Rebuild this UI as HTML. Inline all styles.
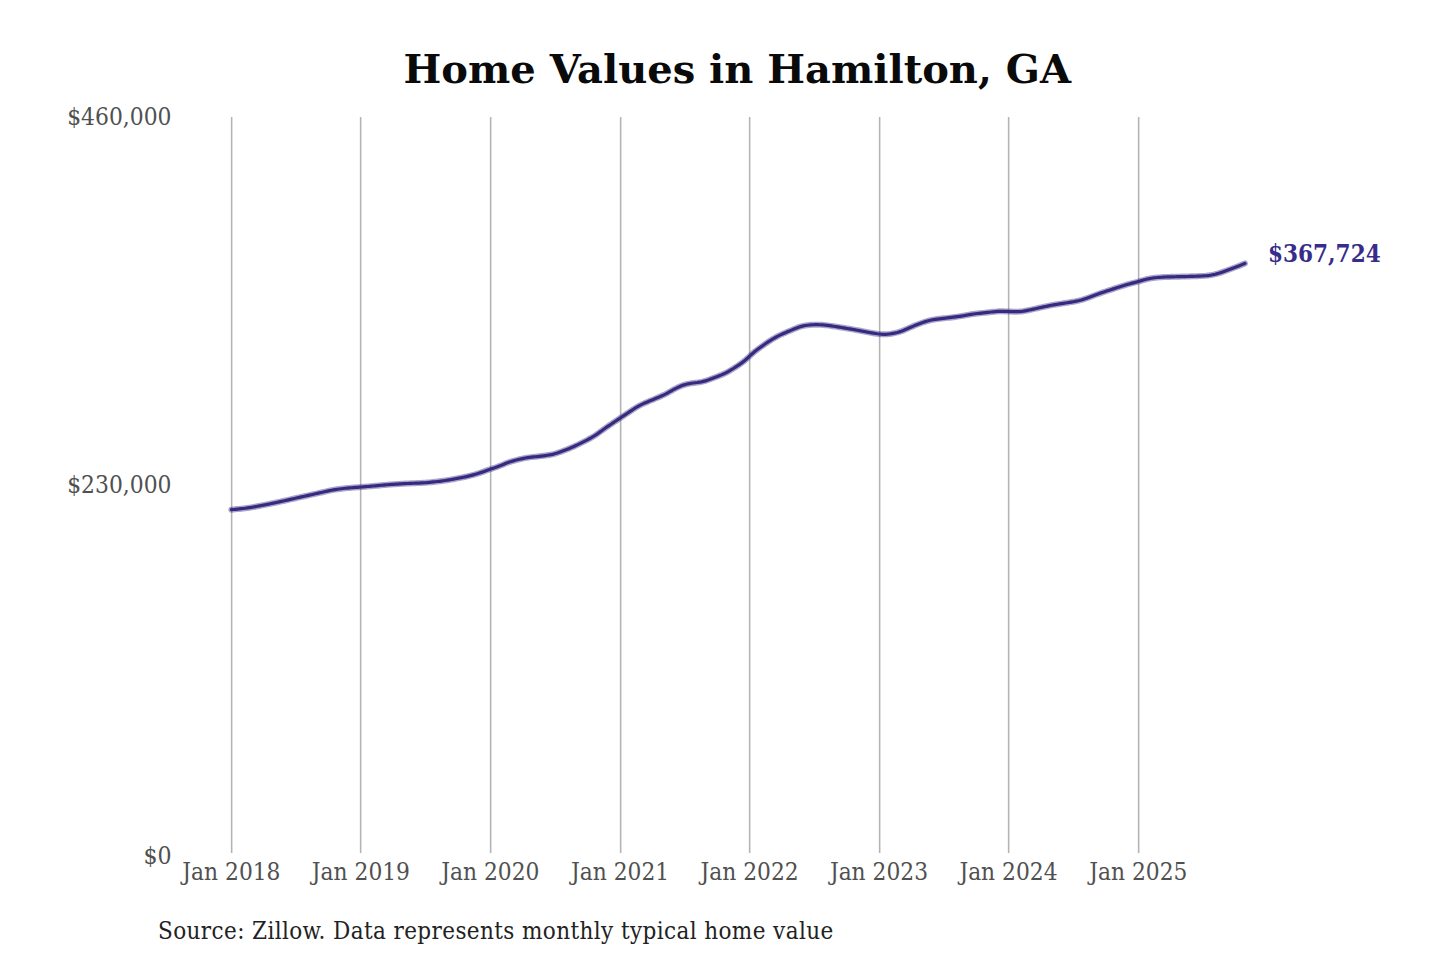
<!DOCTYPE html>
<html><head><meta charset="utf-8"><title>Home Values in Hamilton, GA</title>
<style>
html,body{margin:0;padding:0;background:#fff;width:1440px;height:960px;overflow:hidden}
svg{display:block}
#w{}
.t{font-family:"DejaVu Serif","Liberation Serif",serif}
.c{font-stretch:condensed}
</style></head><body>
<div id="w"><svg width="1440" height="960" viewBox="0 0 1440 960">
<rect width="1440" height="960" fill="#fff"/>
<g stroke="#aaaaaa" stroke-width="1" shape-rendering="auto"><line x1="230.50" y1="117" x2="230.50" y2="853" stroke="#f4f4f4"/><line x1="232.50" y1="117" x2="232.50" y2="853" stroke="#dedede"/><line x1="231.50" y1="117" x2="231.50" y2="853" stroke="#b4b4b4"/><line x1="359.50" y1="117" x2="359.50" y2="853" stroke="#f4f4f4"/><line x1="361.50" y1="117" x2="361.50" y2="853" stroke="#dedede"/><line x1="360.50" y1="117" x2="360.50" y2="853" stroke="#b4b4b4"/><line x1="489.50" y1="117" x2="489.50" y2="853" stroke="#f4f4f4"/><line x1="491.50" y1="117" x2="491.50" y2="853" stroke="#dedede"/><line x1="490.50" y1="117" x2="490.50" y2="853" stroke="#b4b4b4"/><line x1="619.50" y1="117" x2="619.50" y2="853" stroke="#f4f4f4"/><line x1="621.50" y1="117" x2="621.50" y2="853" stroke="#dedede"/><line x1="620.50" y1="117" x2="620.50" y2="853" stroke="#b4b4b4"/><line x1="748.50" y1="117" x2="748.50" y2="853" stroke="#f4f4f4"/><line x1="750.50" y1="117" x2="750.50" y2="853" stroke="#dedede"/><line x1="749.50" y1="117" x2="749.50" y2="853" stroke="#b4b4b4"/><line x1="878.50" y1="117" x2="878.50" y2="853" stroke="#f4f4f4"/><line x1="880.50" y1="117" x2="880.50" y2="853" stroke="#dedede"/><line x1="879.50" y1="117" x2="879.50" y2="853" stroke="#b4b4b4"/><line x1="1007.50" y1="117" x2="1007.50" y2="853" stroke="#f4f4f4"/><line x1="1009.50" y1="117" x2="1009.50" y2="853" stroke="#dedede"/><line x1="1008.50" y1="117" x2="1008.50" y2="853" stroke="#b4b4b4"/><line x1="1137.50" y1="117" x2="1137.50" y2="853" stroke="#f4f4f4"/><line x1="1139.50" y1="117" x2="1139.50" y2="853" stroke="#dedede"/><line x1="1138.50" y1="117" x2="1138.50" y2="853" stroke="#b4b4b4"/></g>
<g fill="none" stroke="#352a80" stroke-linecap="round" stroke-linejoin="round"><path d="M231.4 509.70 L233.4 509.50 L235.4 509.31 L237.4 509.11 L239.4 508.91 L241.4 508.70 L243.4 508.47 L245.4 508.22 L247.4 507.96 L249.4 507.66 L251.4 507.35 L253.4 507.02 L255.4 506.67 L257.4 506.30 L259.4 505.93 L261.4 505.55 L263.4 505.16 L265.4 504.76 L267.4 504.36 L269.4 503.95 L271.4 503.54 L273.4 503.13 L275.4 502.71 L277.4 502.28 L279.4 501.85 L281.4 501.41 L283.4 500.97 L285.4 500.52 L287.4 500.07 L289.4 499.61 L291.4 499.15 L293.4 498.70 L295.4 498.24 L297.4 497.79 L299.4 497.34 L301.4 496.89 L303.4 496.45 L305.4 496.01 L307.4 495.57 L309.4 495.13 L311.4 494.69 L313.4 494.25 L315.4 493.81 L317.4 493.37 L319.4 492.92 L321.4 492.47 L323.4 492.01 L325.4 491.55 L327.4 491.09 L329.4 490.66 L331.4 490.25 L333.4 489.88 L335.4 489.55 L337.4 489.24 L339.4 488.97 L341.4 488.72 L343.4 488.49 L345.4 488.28 L347.4 488.09 L349.4 487.92 L351.4 487.76 L353.4 487.61 L355.4 487.46 L357.4 487.31 L359.4 487.16 L361.4 487.01 L363.4 486.85 L365.4 486.69 L367.4 486.53 L369.4 486.37 L371.4 486.20 L373.4 486.03 L375.4 485.85 L377.4 485.66 L379.4 485.46 L381.4 485.26 L383.4 485.07 L385.4 484.89 L387.4 484.74 L389.4 484.60 L391.4 484.47 L393.4 484.35 L395.4 484.22 L397.4 484.09 L399.4 483.95 L401.4 483.83 L403.4 483.71 L405.4 483.60 L407.4 483.50 L409.4 483.41 L411.4 483.34 L413.4 483.26 L415.4 483.19 L417.4 483.11 L419.4 483.04 L421.4 482.96 L423.4 482.86 L425.4 482.73 L427.4 482.56 L429.4 482.38 L431.4 482.17 L433.4 481.96 L435.4 481.75 L437.4 481.53 L439.4 481.30 L441.4 481.05 L443.4 480.78 L445.4 480.50 L447.4 480.20 L449.4 479.88 L451.4 479.53 L453.4 479.18 L455.4 478.80 L457.4 478.41 L459.4 478.02 L461.4 477.62 L463.4 477.22 L465.4 476.81 L467.4 476.37 L469.4 475.90 L471.4 475.40 L473.4 474.87 L475.4 474.30 L477.4 473.69 L479.4 473.05 L481.4 472.37 L483.4 471.65 L485.4 470.92 L487.4 470.18 L489.4 469.47 L491.4 468.80 L493.4 468.16 L495.4 467.51 L497.4 466.82 L499.4 466.06 L501.4 465.25 L503.4 464.41 L505.4 463.59 L507.4 462.81 L509.4 462.10 L511.4 461.45 L513.4 460.85 L515.4 460.30 L517.4 459.78 L519.4 459.28 L521.4 458.82 L523.4 458.39 L525.4 458.00 L527.4 457.66 L529.4 457.37 L531.4 457.13 L533.4 456.93 L535.4 456.74 L537.4 456.54 L539.4 456.32 L541.4 456.08 L543.4 455.83 L545.4 455.56 L547.4 455.27 L549.4 454.94 L551.4 454.57 L553.4 454.12 L555.4 453.58 L557.4 452.96 L559.4 452.28 L561.4 451.56 L563.4 450.80 L565.4 450.02 L567.4 449.22 L569.4 448.40 L571.4 447.56 L573.4 446.68 L575.4 445.78 L577.4 444.85 L579.4 443.90 L581.4 442.91 L583.4 441.91 L585.4 440.88 L587.4 439.84 L589.4 438.77 L591.4 437.66 L593.4 436.48 L595.4 435.21 L597.4 433.85 L599.4 432.42 L601.4 430.95 L603.4 429.50 L605.4 428.07 L607.4 426.68 L609.4 425.31 L611.4 423.96 L613.4 422.61 L615.4 421.28 L617.4 419.94 L619.4 418.60 L621.4 417.25 L623.4 415.91 L625.4 414.56 L627.4 413.22 L629.4 411.89 L631.4 410.56 L633.4 409.24 L635.4 407.96 L637.4 406.75 L639.4 405.63 L641.4 404.61 L643.4 403.66 L645.4 402.77 L647.4 401.91 L649.4 401.08 L651.4 400.25 L653.4 399.41 L655.4 398.58 L657.4 397.74 L659.4 396.88 L661.4 396.01 L663.4 395.09 L665.4 394.10 L667.4 393.04 L669.4 391.94 L671.4 390.80 L673.4 389.69 L675.4 388.61 L677.4 387.60 L679.4 386.68 L681.4 385.85 L683.4 385.12 L685.4 384.51 L687.4 384.01 L689.4 383.60 L691.4 383.27 L693.4 383.00 L695.4 382.75 L697.4 382.50 L699.4 382.20 L701.4 381.84 L703.4 381.39 L705.4 380.85 L707.4 380.23 L709.4 379.53 L711.4 378.77 L713.4 377.98 L715.4 377.19 L717.4 376.43 L719.4 375.66 L721.4 374.87 L723.4 374.02 L725.4 373.08 L727.4 372.04 L729.4 370.92 L731.4 369.73 L733.4 368.49 L735.4 367.21 L737.4 365.91 L739.4 364.56 L741.4 363.15 L743.4 361.65 L745.4 360.00 L747.4 358.20 L749.4 356.32 L751.4 354.45 L753.4 352.70 L755.4 351.07 L757.4 349.54 L759.4 348.07 L761.4 346.64 L763.4 345.22 L765.4 343.81 L767.4 342.42 L769.4 341.09 L771.4 339.83 L773.4 338.63 L775.4 337.49 L777.4 336.41 L779.4 335.38 L781.4 334.42 L783.4 333.53 L785.4 332.68 L787.4 331.84 L789.4 331.01 L791.4 330.15 L793.4 329.28 L795.4 328.43 L797.4 327.64 L799.4 326.94 L801.4 326.36 L803.4 325.89 L805.4 325.52 L807.4 325.24 L809.4 325.01 L811.4 324.85 L813.4 324.74 L815.4 324.68 L817.4 324.68 L819.4 324.73 L821.4 324.83 L823.4 324.97 L825.4 325.16 L827.4 325.38 L829.4 325.64 L831.4 325.92 L833.4 326.22 L835.4 326.53 L837.4 326.85 L839.4 327.17 L841.4 327.50 L843.4 327.83 L845.4 328.16 L847.4 328.49 L849.4 328.82 L851.4 329.16 L853.4 329.49 L855.4 329.84 L857.4 330.20 L859.4 330.57 L861.4 330.95 L863.4 331.33 L865.4 331.72 L867.4 332.10 L869.4 332.47 L871.4 332.83 L873.4 333.17 L875.4 333.48 L877.4 333.76 L879.4 333.99 L881.4 334.17 L883.4 334.28 L885.4 334.29 L887.4 334.19 L889.4 333.98 L891.4 333.68 L893.4 333.31 L895.4 332.91 L897.4 332.44 L899.4 331.87 L901.4 331.19 L903.4 330.42 L905.4 329.57 L907.4 328.70 L909.4 327.83 L911.4 326.97 L913.4 326.12 L915.4 325.29 L917.4 324.49 L919.4 323.72 L921.4 322.99 L923.4 322.29 L925.4 321.64 L927.4 321.04 L929.4 320.51 L931.4 320.05 L933.4 319.67 L935.4 319.34 L937.4 319.07 L939.4 318.82 L941.4 318.58 L943.4 318.35 L945.4 318.12 L947.4 317.88 L949.4 317.65 L951.4 317.41 L953.4 317.17 L955.4 316.92 L957.4 316.65 L959.4 316.36 L961.4 316.05 L963.4 315.71 L965.4 315.35 L967.4 314.99 L969.4 314.64 L971.4 314.32 L973.4 314.02 L975.4 313.76 L977.4 313.51 L979.4 313.29 L981.4 313.07 L983.4 312.87 L985.4 312.66 L987.4 312.46 L989.4 312.25 L991.4 312.03 L993.4 311.82 L995.4 311.62 L997.4 311.46 L999.4 311.37 L1001.4 311.34 L1003.4 311.36 L1005.4 311.40 L1007.4 311.47 L1009.4 311.54 L1011.4 311.61 L1013.4 311.67 L1015.4 311.71 L1017.4 311.69 L1019.4 311.60 L1021.4 311.42 L1023.4 311.16 L1025.4 310.82 L1027.4 310.44 L1029.4 310.03 L1031.4 309.60 L1033.4 309.16 L1035.4 308.70 L1037.4 308.24 L1039.4 307.78 L1041.4 307.34 L1043.4 306.91 L1045.4 306.48 L1047.4 306.07 L1049.4 305.67 L1051.4 305.28 L1053.4 304.91 L1055.4 304.56 L1057.4 304.23 L1059.4 303.92 L1061.4 303.63 L1063.4 303.33 L1065.4 303.04 L1067.4 302.73 L1069.4 302.41 L1071.4 302.07 L1073.4 301.72 L1075.4 301.35 L1077.4 300.94 L1079.4 300.47 L1081.4 299.94 L1083.4 299.35 L1085.4 298.70 L1087.4 298.01 L1089.4 297.30 L1091.4 296.56 L1093.4 295.81 L1095.4 295.05 L1097.4 294.29 L1099.4 293.56 L1101.4 292.85 L1103.4 292.16 L1105.4 291.50 L1107.4 290.84 L1109.4 290.19 L1111.4 289.53 L1113.4 288.87 L1115.4 288.21 L1117.4 287.55 L1119.4 286.91 L1121.4 286.28 L1123.4 285.66 L1125.4 285.06 L1127.4 284.48 L1129.4 283.92 L1131.4 283.38 L1133.4 282.86 L1135.4 282.34 L1137.4 281.80 L1139.4 281.24 L1141.4 280.66 L1143.4 280.07 L1145.4 279.52 L1147.4 279.02 L1149.4 278.59 L1151.4 278.24 L1153.4 277.96 L1155.4 277.73 L1157.4 277.53 L1159.4 277.37 L1161.4 277.23 L1163.4 277.12 L1165.4 277.02 L1167.4 276.94 L1169.4 276.88 L1171.4 276.83 L1173.4 276.78 L1175.4 276.74 L1177.4 276.70 L1179.4 276.66 L1181.4 276.62 L1183.4 276.57 L1185.4 276.53 L1187.4 276.48 L1189.4 276.42 L1191.4 276.37 L1193.4 276.30 L1195.4 276.23 L1197.4 276.16 L1199.4 276.08 L1201.4 276.00 L1203.4 275.88 L1205.4 275.74 L1207.4 275.55 L1209.4 275.30 L1211.4 275.00 L1213.4 274.63 L1215.4 274.19 L1217.4 273.67 L1219.4 273.08 L1221.4 272.40 L1223.4 271.68 L1225.4 270.94 L1227.4 270.20 L1229.4 269.47 L1231.4 268.74 L1233.4 268.00 L1235.4 267.25 L1237.4 266.47 L1239.4 265.68 L1241.4 264.87 L1243.4 264.05 L1244.9 263.44" stroke-width="6.0" stroke-opacity="0.42"/><path d="M231.4 509.70 L233.4 509.50 L235.4 509.31 L237.4 509.11 L239.4 508.91 L241.4 508.70 L243.4 508.47 L245.4 508.22 L247.4 507.96 L249.4 507.66 L251.4 507.35 L253.4 507.02 L255.4 506.67 L257.4 506.30 L259.4 505.93 L261.4 505.55 L263.4 505.16 L265.4 504.76 L267.4 504.36 L269.4 503.95 L271.4 503.54 L273.4 503.13 L275.4 502.71 L277.4 502.28 L279.4 501.85 L281.4 501.41 L283.4 500.97 L285.4 500.52 L287.4 500.07 L289.4 499.61 L291.4 499.15 L293.4 498.70 L295.4 498.24 L297.4 497.79 L299.4 497.34 L301.4 496.89 L303.4 496.45 L305.4 496.01 L307.4 495.57 L309.4 495.13 L311.4 494.69 L313.4 494.25 L315.4 493.81 L317.4 493.37 L319.4 492.92 L321.4 492.47 L323.4 492.01 L325.4 491.55 L327.4 491.09 L329.4 490.66 L331.4 490.25 L333.4 489.88 L335.4 489.55 L337.4 489.24 L339.4 488.97 L341.4 488.72 L343.4 488.49 L345.4 488.28 L347.4 488.09 L349.4 487.92 L351.4 487.76 L353.4 487.61 L355.4 487.46 L357.4 487.31 L359.4 487.16 L361.4 487.01 L363.4 486.85 L365.4 486.69 L367.4 486.53 L369.4 486.37 L371.4 486.20 L373.4 486.03 L375.4 485.85 L377.4 485.66 L379.4 485.46 L381.4 485.26 L383.4 485.07 L385.4 484.89 L387.4 484.74 L389.4 484.60 L391.4 484.47 L393.4 484.35 L395.4 484.22 L397.4 484.09 L399.4 483.95 L401.4 483.83 L403.4 483.71 L405.4 483.60 L407.4 483.50 L409.4 483.41 L411.4 483.34 L413.4 483.26 L415.4 483.19 L417.4 483.11 L419.4 483.04 L421.4 482.96 L423.4 482.86 L425.4 482.73 L427.4 482.56 L429.4 482.38 L431.4 482.17 L433.4 481.96 L435.4 481.75 L437.4 481.53 L439.4 481.30 L441.4 481.05 L443.4 480.78 L445.4 480.50 L447.4 480.20 L449.4 479.88 L451.4 479.53 L453.4 479.18 L455.4 478.80 L457.4 478.41 L459.4 478.02 L461.4 477.62 L463.4 477.22 L465.4 476.81 L467.4 476.37 L469.4 475.90 L471.4 475.40 L473.4 474.87 L475.4 474.30 L477.4 473.69 L479.4 473.05 L481.4 472.37 L483.4 471.65 L485.4 470.92 L487.4 470.18 L489.4 469.47 L491.4 468.80 L493.4 468.16 L495.4 467.51 L497.4 466.82 L499.4 466.06 L501.4 465.25 L503.4 464.41 L505.4 463.59 L507.4 462.81 L509.4 462.10 L511.4 461.45 L513.4 460.85 L515.4 460.30 L517.4 459.78 L519.4 459.28 L521.4 458.82 L523.4 458.39 L525.4 458.00 L527.4 457.66 L529.4 457.37 L531.4 457.13 L533.4 456.93 L535.4 456.74 L537.4 456.54 L539.4 456.32 L541.4 456.08 L543.4 455.83 L545.4 455.56 L547.4 455.27 L549.4 454.94 L551.4 454.57 L553.4 454.12 L555.4 453.58 L557.4 452.96 L559.4 452.28 L561.4 451.56 L563.4 450.80 L565.4 450.02 L567.4 449.22 L569.4 448.40 L571.4 447.56 L573.4 446.68 L575.4 445.78 L577.4 444.85 L579.4 443.90 L581.4 442.91 L583.4 441.91 L585.4 440.88 L587.4 439.84 L589.4 438.77 L591.4 437.66 L593.4 436.48 L595.4 435.21 L597.4 433.85 L599.4 432.42 L601.4 430.95 L603.4 429.50 L605.4 428.07 L607.4 426.68 L609.4 425.31 L611.4 423.96 L613.4 422.61 L615.4 421.28 L617.4 419.94 L619.4 418.60 L621.4 417.25 L623.4 415.91 L625.4 414.56 L627.4 413.22 L629.4 411.89 L631.4 410.56 L633.4 409.24 L635.4 407.96 L637.4 406.75 L639.4 405.63 L641.4 404.61 L643.4 403.66 L645.4 402.77 L647.4 401.91 L649.4 401.08 L651.4 400.25 L653.4 399.41 L655.4 398.58 L657.4 397.74 L659.4 396.88 L661.4 396.01 L663.4 395.09 L665.4 394.10 L667.4 393.04 L669.4 391.94 L671.4 390.80 L673.4 389.69 L675.4 388.61 L677.4 387.60 L679.4 386.68 L681.4 385.85 L683.4 385.12 L685.4 384.51 L687.4 384.01 L689.4 383.60 L691.4 383.27 L693.4 383.00 L695.4 382.75 L697.4 382.50 L699.4 382.20 L701.4 381.84 L703.4 381.39 L705.4 380.85 L707.4 380.23 L709.4 379.53 L711.4 378.77 L713.4 377.98 L715.4 377.19 L717.4 376.43 L719.4 375.66 L721.4 374.87 L723.4 374.02 L725.4 373.08 L727.4 372.04 L729.4 370.92 L731.4 369.73 L733.4 368.49 L735.4 367.21 L737.4 365.91 L739.4 364.56 L741.4 363.15 L743.4 361.65 L745.4 360.00 L747.4 358.20 L749.4 356.32 L751.4 354.45 L753.4 352.70 L755.4 351.07 L757.4 349.54 L759.4 348.07 L761.4 346.64 L763.4 345.22 L765.4 343.81 L767.4 342.42 L769.4 341.09 L771.4 339.83 L773.4 338.63 L775.4 337.49 L777.4 336.41 L779.4 335.38 L781.4 334.42 L783.4 333.53 L785.4 332.68 L787.4 331.84 L789.4 331.01 L791.4 330.15 L793.4 329.28 L795.4 328.43 L797.4 327.64 L799.4 326.94 L801.4 326.36 L803.4 325.89 L805.4 325.52 L807.4 325.24 L809.4 325.01 L811.4 324.85 L813.4 324.74 L815.4 324.68 L817.4 324.68 L819.4 324.73 L821.4 324.83 L823.4 324.97 L825.4 325.16 L827.4 325.38 L829.4 325.64 L831.4 325.92 L833.4 326.22 L835.4 326.53 L837.4 326.85 L839.4 327.17 L841.4 327.50 L843.4 327.83 L845.4 328.16 L847.4 328.49 L849.4 328.82 L851.4 329.16 L853.4 329.49 L855.4 329.84 L857.4 330.20 L859.4 330.57 L861.4 330.95 L863.4 331.33 L865.4 331.72 L867.4 332.10 L869.4 332.47 L871.4 332.83 L873.4 333.17 L875.4 333.48 L877.4 333.76 L879.4 333.99 L881.4 334.17 L883.4 334.28 L885.4 334.29 L887.4 334.19 L889.4 333.98 L891.4 333.68 L893.4 333.31 L895.4 332.91 L897.4 332.44 L899.4 331.87 L901.4 331.19 L903.4 330.42 L905.4 329.57 L907.4 328.70 L909.4 327.83 L911.4 326.97 L913.4 326.12 L915.4 325.29 L917.4 324.49 L919.4 323.72 L921.4 322.99 L923.4 322.29 L925.4 321.64 L927.4 321.04 L929.4 320.51 L931.4 320.05 L933.4 319.67 L935.4 319.34 L937.4 319.07 L939.4 318.82 L941.4 318.58 L943.4 318.35 L945.4 318.12 L947.4 317.88 L949.4 317.65 L951.4 317.41 L953.4 317.17 L955.4 316.92 L957.4 316.65 L959.4 316.36 L961.4 316.05 L963.4 315.71 L965.4 315.35 L967.4 314.99 L969.4 314.64 L971.4 314.32 L973.4 314.02 L975.4 313.76 L977.4 313.51 L979.4 313.29 L981.4 313.07 L983.4 312.87 L985.4 312.66 L987.4 312.46 L989.4 312.25 L991.4 312.03 L993.4 311.82 L995.4 311.62 L997.4 311.46 L999.4 311.37 L1001.4 311.34 L1003.4 311.36 L1005.4 311.40 L1007.4 311.47 L1009.4 311.54 L1011.4 311.61 L1013.4 311.67 L1015.4 311.71 L1017.4 311.69 L1019.4 311.60 L1021.4 311.42 L1023.4 311.16 L1025.4 310.82 L1027.4 310.44 L1029.4 310.03 L1031.4 309.60 L1033.4 309.16 L1035.4 308.70 L1037.4 308.24 L1039.4 307.78 L1041.4 307.34 L1043.4 306.91 L1045.4 306.48 L1047.4 306.07 L1049.4 305.67 L1051.4 305.28 L1053.4 304.91 L1055.4 304.56 L1057.4 304.23 L1059.4 303.92 L1061.4 303.63 L1063.4 303.33 L1065.4 303.04 L1067.4 302.73 L1069.4 302.41 L1071.4 302.07 L1073.4 301.72 L1075.4 301.35 L1077.4 300.94 L1079.4 300.47 L1081.4 299.94 L1083.4 299.35 L1085.4 298.70 L1087.4 298.01 L1089.4 297.30 L1091.4 296.56 L1093.4 295.81 L1095.4 295.05 L1097.4 294.29 L1099.4 293.56 L1101.4 292.85 L1103.4 292.16 L1105.4 291.50 L1107.4 290.84 L1109.4 290.19 L1111.4 289.53 L1113.4 288.87 L1115.4 288.21 L1117.4 287.55 L1119.4 286.91 L1121.4 286.28 L1123.4 285.66 L1125.4 285.06 L1127.4 284.48 L1129.4 283.92 L1131.4 283.38 L1133.4 282.86 L1135.4 282.34 L1137.4 281.80 L1139.4 281.24 L1141.4 280.66 L1143.4 280.07 L1145.4 279.52 L1147.4 279.02 L1149.4 278.59 L1151.4 278.24 L1153.4 277.96 L1155.4 277.73 L1157.4 277.53 L1159.4 277.37 L1161.4 277.23 L1163.4 277.12 L1165.4 277.02 L1167.4 276.94 L1169.4 276.88 L1171.4 276.83 L1173.4 276.78 L1175.4 276.74 L1177.4 276.70 L1179.4 276.66 L1181.4 276.62 L1183.4 276.57 L1185.4 276.53 L1187.4 276.48 L1189.4 276.42 L1191.4 276.37 L1193.4 276.30 L1195.4 276.23 L1197.4 276.16 L1199.4 276.08 L1201.4 276.00 L1203.4 275.88 L1205.4 275.74 L1207.4 275.55 L1209.4 275.30 L1211.4 275.00 L1213.4 274.63 L1215.4 274.19 L1217.4 273.67 L1219.4 273.08 L1221.4 272.40 L1223.4 271.68 L1225.4 270.94 L1227.4 270.20 L1229.4 269.47 L1231.4 268.74 L1233.4 268.00 L1235.4 267.25 L1237.4 266.47 L1239.4 265.68 L1241.4 264.87 L1243.4 264.05 L1244.9 263.44" stroke-width="3.2"/></g>
<text class="t" x="403.5" y="83" textLength="667.5" lengthAdjust="spacingAndGlyphs" font-size="40" font-weight="bold" fill="#0a0a0a">Home Values in Hamilton, GA</text>
<g class="t c" font-size="24" fill="#505050" text-anchor="end">
<text x="171.5" y="125" textLength="104.3" lengthAdjust="spacingAndGlyphs">$460,000</text>
<text x="171.5" y="492.5" textLength="104.3" lengthAdjust="spacingAndGlyphs">$230,000</text>
<text x="171.5" y="864" textLength="28.1" lengthAdjust="spacingAndGlyphs">$0</text>
</g>
<g class="t c" font-size="24" fill="#505050" text-anchor="middle"><text x="231.4" y="879.5" textLength="98.2" lengthAdjust="spacingAndGlyphs">Jan 2018</text><text x="360.9" y="879.5" textLength="98.2" lengthAdjust="spacingAndGlyphs">Jan 2019</text><text x="490.3" y="879.5" textLength="98.2" lengthAdjust="spacingAndGlyphs">Jan 2020</text><text x="620.1" y="879.5" textLength="98.2" lengthAdjust="spacingAndGlyphs">Jan 2021</text><text x="749.6" y="879.5" textLength="98.2" lengthAdjust="spacingAndGlyphs">Jan 2022</text><text x="879.0" y="879.5" textLength="98.2" lengthAdjust="spacingAndGlyphs">Jan 2023</text><text x="1008.5" y="879.5" textLength="98.2" lengthAdjust="spacingAndGlyphs">Jan 2024</text><text x="1138.3" y="879.5" textLength="98.2" lengthAdjust="spacingAndGlyphs">Jan 2025</text></g>
<text class="t c" x="1268" y="262" textLength="112.7" lengthAdjust="spacingAndGlyphs" font-size="24" font-weight="bold" fill="#372c8a">$367,724</text>
<text class="t c" x="158" y="938.5" textLength="675.6" lengthAdjust="spacingAndGlyphs" font-size="24" fill="#222222" style="letter-spacing:0.38px">Source: Zillow. Data represents monthly typical home value</text>
</svg></div>
</body></html>
